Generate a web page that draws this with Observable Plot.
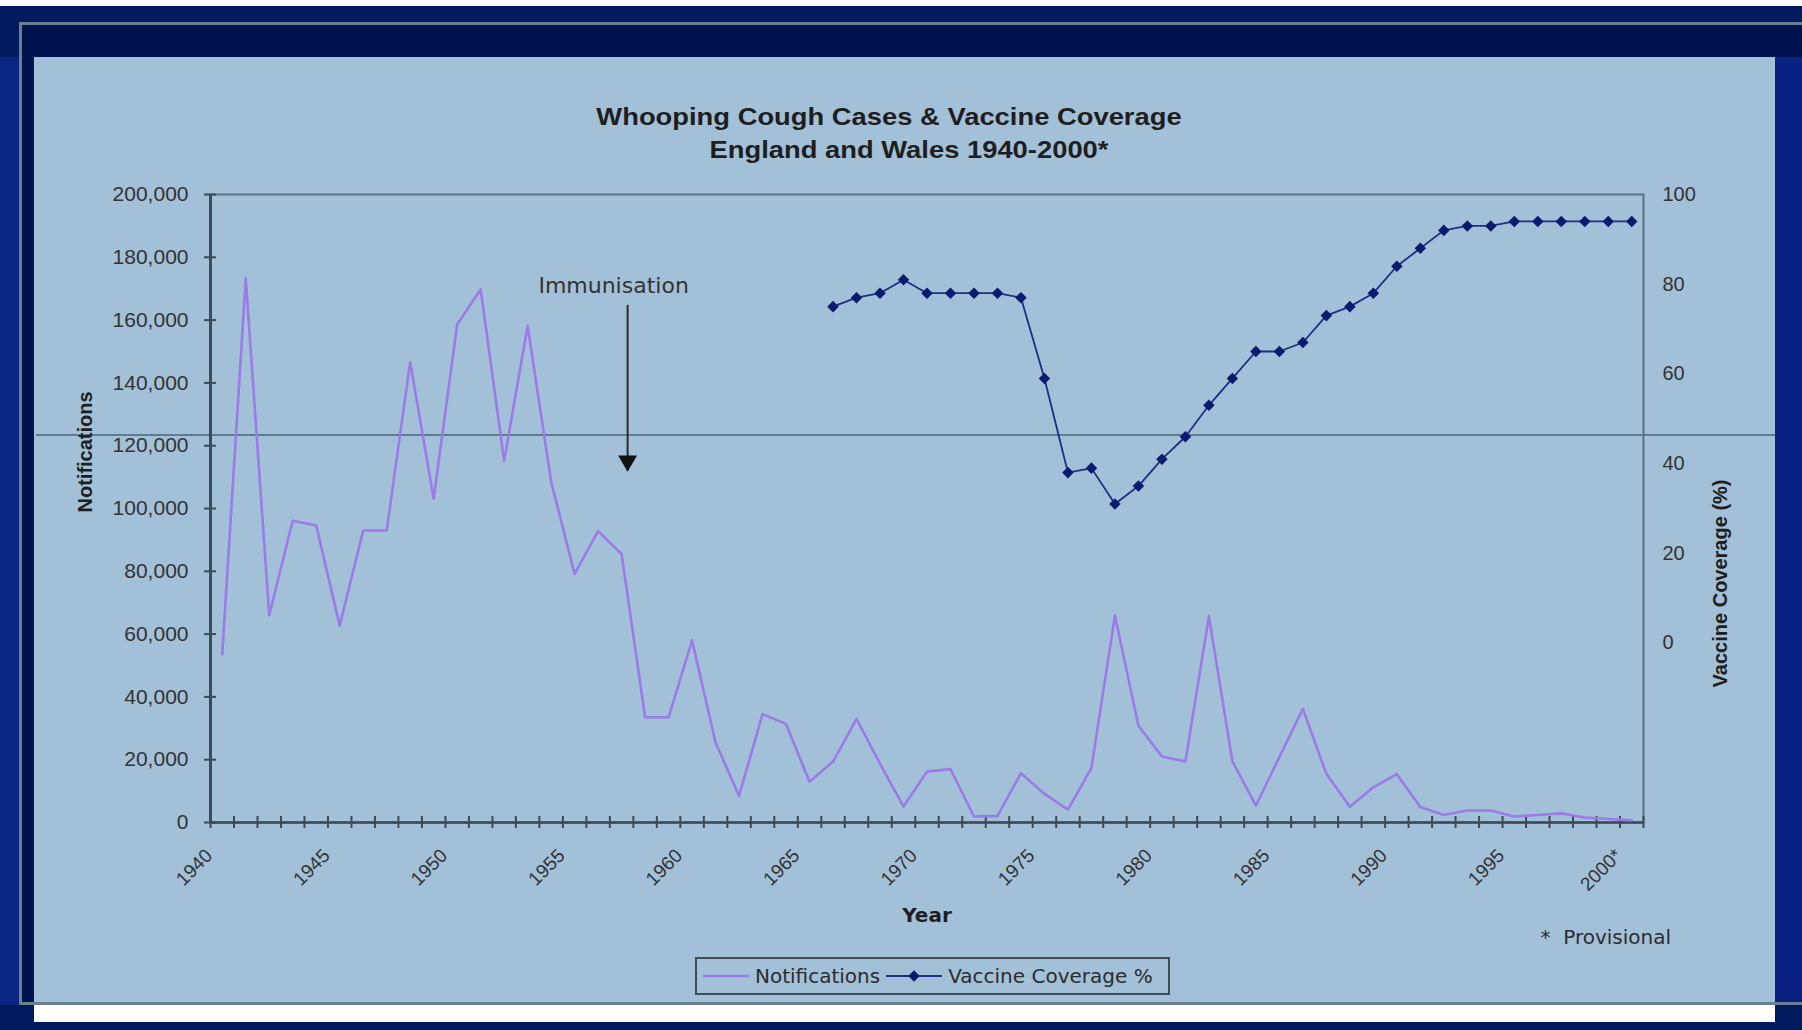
<!DOCTYPE html>
<html>
<head>
<meta charset="utf-8">
<script src="https://cdn.jsdelivr.net/npm/d3@7"></script>
<script src="https://cdn.jsdelivr.net/npm/@observablehq/plot@0.6"></script>
<style>
  html, body { margin: 0; padding: 0; }
  body { width: 1802px; height: 1030px; position: relative; overflow: hidden; background: #001a5e; font-family: "Liberation Sans", Arial, sans-serif; }
  .abs { position: absolute; }
  .title { font-family: "Liberation Sans", Arial, sans-serif; font-weight: bold; font-size: 24px; line-height: 24px; color: #1e1e1e;
           white-space: nowrap; transform: translateX(-50%) scaleX(1.14); transform-origin: 50% 50%; }
  #legend { left: 695px; top: 957px; width: 475px; height: 38px; box-sizing: border-box; border: 2px solid #3f4b57; background: #a2c0d8;
            display: flex; align-items: center; font-family: "DejaVu Sans", sans-serif; font-size: 20px; color: #2c2c2c; white-space: nowrap; }
  #legend svg { display: block; }
</style>
</head>
<body>
<div class="abs" style="left:0;top:0;width:1802px;height:6px;background:#ffffff"></div>
<div class="abs" style="left:0;top:57px;width:19px;height:948px;background:#0b2585"></div>
<div class="abs" style="left:19px;top:22px;width:1783px;height:983px;box-sizing:border-box;background:#00134e;border-top:3px solid #6b7f92;border-left:3px solid #6b7f92"></div>
<div class="abs" style="left:1775px;top:57px;width:27px;height:945px;background:#0a2183"></div>
<div class="abs" style="left:34px;top:57px;width:1741px;height:945px;background:#a2c0d8"></div>
<div class="abs" style="left:19px;top:1002px;width:1783px;height:3px;background:#6b7f92"></div>
<div class="abs" style="left:34px;top:1005px;width:1741px;height:17px;background:#ffffff"></div>
<div class="abs" style="left:36px;top:434px;width:1739px;height:1.5px;background:#5f7b90"></div>
<div id="title1" class="abs title" style="left:889px;top:105px"></div>
<div id="title2" class="abs title" style="left:909px;top:138px"></div>
<div id="chart" class="abs" style="left:0;top:0"></div>
<div id="legend" class="abs"></div>
<script>
// ---------- data ----------
const years = [1940,1941,1942,1943,1944,1945,1946,1947,1948,1949,
               1950,1951,1952,1953,1954,1955,1956,1957,1958,1959,
               1960,1961,1962,1963,1964,1965,1966,1967,1968,1969,
               1970,1971,1972,1973,1974,1975,1976,1977,1978,1979,
               1980,1981,1982,1983,1984,1985,1986,1987,1988,1989,
               1990,1991,1992,1993,1994,1995,1996,1997,1998,1999,2000];
const notifications = [53600,173300,66000,96100,94600,62700,93000,93000,146600,103100,
                       158600,169800,115200,158200,108500,79200,92800,85500,33500,33500,
                       58000,25500,8500,34500,31400,13000,19400,33000,18700,5100,
                       16200,17000,1900,2100,15700,9100,4100,17400,65900,30800,
                       21000,19400,65700,19500,5400,20800,36200,15500,5000,11200,
                       15400,4900,2400,3800,3800,1900,2400,2900,1600,1100,700];
const coverageYears = [1966,1967,1968,1969,1970,1971,1972,1973,1974,1975,
                       1976,1977,1978,1979,1980,1981,1982,1983,1984,1985,
                       1986,1987,1988,1989,1990,1991,1992,1993,1994,1995,
                       1996,1997,1998,1999,2000];
const coverage = [75,77,78,81,78,78,78,78,77,59,
                  38,39,31,35,41,46,53,59,65,65,
                  67,73,75,78,84,88,92,93,93,94,
                  94,94,94,94,94];
const notificationTicks = [0,20000,40000,60000,80000,100000,120000,140000,160000,180000,200000];
const coverageTicks = [0,20,40,60,80,100];
const coverageAxisDomain = [-40, 100];
const xLabelYears = [1940,1945,1950,1955,1960,1965,1970,1975,1980,1985,1990,1995,2000];
const seriesNames = ["Notifications", "Vaccine Coverage %"];
const titleLines = ["Whooping Cough Cases & Vaccine Coverage", "England and Wales 1940-2000*"];
const axisTitles = {x: "Year", left: "Notifications", right: "Vaccine Coverage (%)"};
const footnote = "*\u00a0\u00a0Provisional";
const annotation = [{year: 1957, label: "Immunisation", labelAt: 171000, from: 164700, to: 112000}];

// ---------- derived tables ----------
const notifData = years.map((year, i) => ({year, value: notifications[i]}));
const covData = coverageYears.map((year, i) => ({year, value: coverage[i]}));
const yMax = notificationTicks[notificationTicks.length - 1];
const [cMin, cMax] = coverageAxisDomain;
const toLeft = c => (c - cMin) * yMax / (cMax - cMin);
const fromLeft = v => v * (cMax - cMin) / yMax + cMin;
const tickBoundaries = years.map(y => y - 0.5).concat([years[years.length - 1] + 0.5]);

const purple = "#9a7be8";
const navyLine = "#1c2f82";
const navyDot = "#0b1a6e";
const axisInk = "#3e4a56";
const textInk = "#2d2d2d";

document.getElementById("title1").textContent = titleLines[0];
document.getElementById("title2").textContent = titleLines[1];

const chart = Plot.plot({
  width: 1802,
  height: 1030,
  marginTop: 194,
  marginBottom: 208,
  marginLeft: 210,
  marginRight: 159,
  x: {domain: [tickBoundaries[0], tickBoundaries[tickBoundaries.length - 1]]},
  y: {domain: [0, yMax]},
  style: {background: "transparent", color: textInk, fontFamily: "'Liberation Sans', Arial, sans-serif", fontSize: "21px", overflow: "visible"},
  marks: [
    Plot.frame({stroke: "#5d6e7d", strokeWidth: 2}),
    Plot.ruleX([tickBoundaries[0]], {stroke: axisInk, strokeWidth: 3}),
    Plot.ruleY([0], {stroke: axisInk, strokeWidth: 2.5}),
    // left axis: crossing ticks + labels
    Plot.axisY({ticks: notificationTicks, tickSize: 12, dx: 6, tickFormat: () => "", stroke: axisInk, strokeWidth: 2, label: null}),
    Plot.axisY({ticks: notificationTicks, tickSize: 0, tickPadding: 22, tickFormat: d3.format(","), fontSize: 21, fill: "#333", label: null}),
    // right axis: labels only
    Plot.axisY({anchor: "right", ticks: coverageTicks.map(toLeft), tickSize: 0, tickPadding: 19, textAnchor: "start",
                tickFormat: d => String(Math.round(fromLeft(d))), fontSize: 20, fill: "#333", label: null}),
    // x axis: crossing ticks at category boundaries + rotated labels
    Plot.axisX({ticks: tickBoundaries, tickSize: 12, dy: -6, tickFormat: () => "", stroke: axisInk, strokeWidth: 2, label: null}),
    Plot.axisX({ticks: xLabelYears, tickSize: 0, tickRotate: -45, tickPadding: 30, dx: -13, fontSize: 19, fill: "#333",
                tickFormat: d => d === 2000 ? "2000*" : String(d), label: null}),
    // series
    Plot.line(notifData, {x: "year", y: "value", stroke: purple, strokeWidth: 2.6}),
    Plot.line(covData, {x: "year", y: d => toLeft(d.value), stroke: navyLine, strokeWidth: 1.8}),
    Plot.dot(covData, {x: "year", y: d => toLeft(d.value), symbol: "diamond2", r: 5.2, fill: navyDot, stroke: null}),
    // annotation
    Plot.text(annotation, {x: "year", y: "labelAt", text: "label", dx: -8, fontFamily: "DejaVu Sans", fontSize: 22, fill: "#333"}),
    Plot.ruleX(annotation, {x: "year", y1: "from", y2: "to", dx: 6, stroke: "#2b2b2b", strokeWidth: 2}),
    Plot.dot(annotation, {x: "year", y: "to", dx: 6, dy: -10, symbol: "triangle", rotate: 180, r: 7, fill: "#111", stroke: null}),
    // axis titles & footnote
    Plot.text([axisTitles.left], {frameAnchor: "left", rotate: -90, dx: -125, dy: 4, fontWeight: "bold", fontSize: 20, fill: "#1e1e1e"}),
    Plot.text([axisTitles.right], {frameAnchor: "right", rotate: -90, dx: 77, dy: -29, fontWeight: "bold", fontSize: 20, fill: "#1e1e1e"}),
    Plot.text([axisTitles.x], {frameAnchor: "bottom", dy: 99, fontFamily: "DejaVu Sans", fontWeight: "bold", fontSize: 20, fill: "#1e1e1e"}),
    Plot.text([footnote], {frameAnchor: "bottom-right", textAnchor: "start", dx: -103, dy: 121, fontFamily: "DejaVu Sans", fontSize: 20, fill: "#2d2d2d"})
  ]
});
document.getElementById("chart").appendChild(chart);

// ---------- legend ----------
const legend = document.getElementById("legend");
const ns = "http://www.w3.org/2000/svg";
function swatch(color, width, withDiamond) {
  const svg = document.createElementNS(ns, "svg");
  svg.setAttribute("width", width); svg.setAttribute("height", 20);
  const line = document.createElementNS(ns, "line");
  line.setAttribute("x1", 0); line.setAttribute("x2", width - 4);
  line.setAttribute("y1", 10); line.setAttribute("y2", 10);
  line.setAttribute("stroke", color); line.setAttribute("stroke-width", withDiamond ? 1.8 : 2.6);
  svg.appendChild(line);
  if (withDiamond) {
    const p = document.createElementNS(ns, "path");
    const cx = (width - 4) / 2;
    p.setAttribute("d", d3.symbol(d3.symbolDiamond2, Math.PI * 5.2 * 5.2)());
    p.setAttribute("transform", `translate(${cx},10)`);
    p.setAttribute("fill", navyDot);
    svg.appendChild(p);
  }
  return svg;
}
const s1 = swatch(purple, 50, false); s1.style.marginLeft = "6px";
legend.appendChild(s1);
const t1 = document.createElement("span"); t1.textContent = seriesNames[0]; t1.style.marginLeft = "2px";
legend.appendChild(t1);
const s2 = swatch(navyLine, 60, true); s2.style.marginLeft = "6px";
legend.appendChild(s2);
const t2 = document.createElement("span"); t2.textContent = seriesNames[1]; t2.style.marginLeft = "2px";
legend.appendChild(t2);
</script>
</body>
</html>
